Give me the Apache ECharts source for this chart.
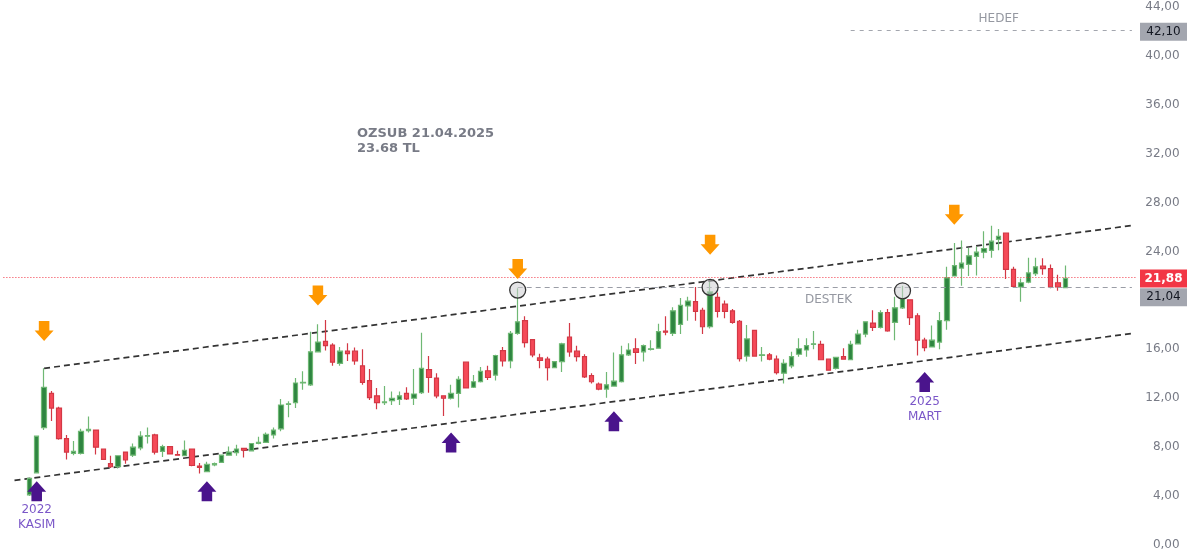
<!DOCTYPE html>
<html><head><meta charset="utf-8">
<script src="https://cdn.jsdelivr.net/npm/echarts@6/dist/echarts.min.js"></script>
<style>html,body{margin:0;padding:0;background:#fff}#c{width:1200px;height:551px}</style>
</head><body><div id="c"></div>
<script>
// ---- data (OZSUB) ----
const openP = [4.1,5.9,9.6,12.4,11.2,8.7,7.5,7.5,9.35,9.4,7.85,6.65,6.4,7.6,7.35,7.95,8.9,9.0,7.65,8.05,
  7.4,7.3,7.85,6.45,6.0,6.55,6.75,7.35,7.55,7.9,7.7,8.3,8.4,9.0,9.5,11.5,11.65,13.25,13.1,15.8,
  16.65,16.35,14.85,15.85,15.85,14.65,13.45,12.2,11.65,11.8,11.9,12.4,12.0,12.45,14.35,13.65,12.2,12.0,12.4,14.95,
  12.9,13.35,14.25,13.9,15.9,15.05,17.3,18.35,16.8,15.3,15.2,14.5,15.0,17.0,15.85,15.4,13.85,13.15,12.75,13.0,
  13.35,15.55,16.05,15.8,16.0,16.1,17.5,17.3,18.05,19.55,19.9,19.2,17.85,20.25,19.7,19.15,18.3,15.45,17.55,15.5,
  15.55,15.2,14.05,14.65,15.6,15.95,16.4,16.4,15.2,14.45,15.4,15.15,16.45,17.25,18.15,17.8,19.0,18.2,19.4,20.05,
  18.75,16.75,16.2,16.6,18.35,22.0,22.65,22.95,23.6,23.95,24.1,25.0,25.5,22.55,21.1,21.5,22.2,22.8,22.6,21.45,21.05];
const highP = [5.5,8.95,14.45,12.6,11.3,9.0,8.5,9.5,10.5,9.45,7.9,7.3,7.35,7.65,8.3,9.3,9.6,9.1,8.2,8.1,
  7.7,8.55,7.9,6.7,6.8,6.75,7.4,8.05,8.2,7.95,8.3,8.85,9.2,9.6,11.95,11.75,13.65,14.2,17.45,18.05,
  18.4,16.5,16.2,16.5,16.15,16.0,14.4,12.85,13.0,12.55,12.55,12.9,14.4,17.35,15.45,14.05,12.25,13.1,13.8,15.0,
  13.9,14.55,14.65,15.55,16.2,17.5,21.0,18.7,16.85,15.65,15.4,15.05,16.55,18.15,16.3,15.6,14.05,13.3,14.15,15.75,
  16.3,16.5,16.9,16.4,16.75,18.1,18.7,19.45,20.2,20.3,21.1,19.4,21.5,20.65,20.0,19.3,18.4,18.0,17.6,16.2,
  15.7,15.5,15.2,15.8,16.9,16.9,17.5,16.7,15.25,15.4,16.1,16.7,17.6,18.3,19.2,19.2,19.3,20.3,21.2,20.1,
  18.95,16.95,17.95,19.05,22.75,24.7,24.9,24.3,24.4,25.65,26.1,25.85,25.55,22.75,21.8,23.5,23.5,23.45,22.95,22.1,22.85];
const lowP = [4.0,5.85,9.4,10.15,8.6,7.0,7.35,7.4,9.2,7.4,6.95,6.3,6.25,6.65,7.2,7.75,8.3,7.4,7.2,7.45,
  7.3,7.25,6.45,5.85,5.95,6.45,6.7,7.3,7.3,7.15,7.65,8.25,8.35,8.7,9.3,10.45,11.2,12.7,13.0,15.75,
  15.9,14.65,14.65,15.05,14.75,13.1,11.85,11.1,11.45,11.45,11.45,11.85,11.45,12.35,12.45,12.0,10.55,11.9,11.25,12.8,
  12.85,13.3,13.5,13.45,14.6,14.45,17.2,16.15,15.35,14.45,13.45,14.45,14.15,15.4,15.0,13.65,13.2,12.65,12.05,12.95,
  13.3,15.45,14.8,15.0,15.9,16.05,17.15,17.1,17.25,18.35,18.35,17.25,17.7,18.6,18.55,18.1,15.0,15.0,15.4,15.0,
  15.1,13.95,13.2,14.45,15.4,15.4,16.0,15.1,14.3,14.35,15.15,15.1,16.4,17.0,17.5,17.7,17.45,16.75,19.3,18.0,
  15.5,15.85,16.15,16.0,17.6,21.95,21.2,22.0,22.05,23.45,23.5,24.1,21.75,21.05,19.9,21.4,22.0,22.1,21.0,20.8,21.0];
const closeP = [5.45,8.9,12.9,11.2,8.7,7.6,7.65,9.3,9.45,8.0,7.0,6.4,7.3,6.95,8.0,8.9,8.95,7.6,8.05,7.45,
  7.35,7.75,6.5,6.35,6.6,6.65,7.35,7.6,7.85,7.75,8.3,8.4,9.05,9.4,11.45,11.55,13.25,13.3,15.8,16.6,
  16.3,14.95,15.85,15.65,15.05,13.3,12.05,11.65,11.7,12.0,12.2,11.95,12.35,14.45,13.7,12.2,12.0,12.4,13.55,12.85,
  13.35,14.2,13.7,15.5,15.05,17.3,18.25,16.55,15.55,15.1,14.5,15.0,16.45,15.8,15.4,13.75,13.35,12.75,13.1,13.4,
  15.55,15.95,15.75,16.3,16.05,17.45,17.4,19.15,19.6,19.95,19.1,17.85,20.7,19.1,19.1,18.2,15.25,16.85,15.45,15.55,
  15.2,14.1,14.85,15.4,16.05,16.3,16.45,15.15,14.3,15.35,15.2,16.4,17.25,18.25,17.8,19.0,17.5,19.4,20.15,18.6,
  16.75,16.15,16.75,18.35,21.85,22.85,23.05,23.65,23.95,24.25,24.85,25.25,22.55,21.15,21.45,22.25,22.75,22.6,21.1,21.1,21.8];

const yTickLabels = ['0,00','4,00','8,00','12,00','16,00','','24,00','28,00','32,00','36,00','40,00','44,00'];
const priceTags = [ // value, text
  {v: 42.10, t: '42,10'}, {v: 21.88, t: '21,88'}, {v: 21.04, t: '21,04'}];
const upperTrend = [[5, 14.45], [152, 26.13]];   // [category index, price]
const lowerTrend = [[1, 5.28], [152, 17.30]];
const destek = 21.04, hedef = 42.10, lastLine = 21.88;

// ---- build ----
const LEAD = 3, TRAIL = 9;
const N = LEAD + openP.length + TRAIL;
const categories = Array.from({length: N}, (_, i) => 'W' + (i - LEAD + 1));
const candles = categories.map((_, i) => {
  const k = i - LEAD;
  return (k >= 0 && k < openP.length) ? [openP[k], closeP[k], lowP[k], highP[k]] : '-';
});

const FONT = 'DejaVu Sans';
const downArrow = 'path://M4,0 L14,0 L14,9 L18,9 L9,19 L0,9 L4,9 Z';
const upArrow = 'path://M9,0 L18,10 L14,10 L14,19 L4,19 L4,10 L0,10 Z';
const ORANGE = '#ff9800', PURPLE = '#4a148c';

function arrow(cat, val, up) {
  return {coord: [cat, val], symbol: up ? upArrow : downArrow, symbolSize: [19, 20],
    itemStyle: {color: up ? PURPLE : ORANGE}, label: {show: false}};
}
function ring(cat, val) {
  return {coord: [cat, val], symbol: 'circle', symbolSize: 16,
    itemStyle: {color: 'rgba(205,205,210,0.55)', borderColor: '#333', borderWidth: 1.3}, label: {show: false}};
}
function txt(cat, val, text, color) {
  return {coord: [cat, val], symbol: 'rect', symbolSize: [1, 1], itemStyle: {color: 'rgba(0,0,0,0)'},
    label: {show: true, position: 'inside', formatter: text, color: color, fontFamily: FONT, fontSize: 12, lineHeight: 15, align: 'center'}};
}

const chart = echarts.init(document.getElementById('c'), null, {renderer: 'canvas'});
const GL = 3.4, BW = 7.4;
const gridRight = 1200 - (GL + N * BW);

chart.setOption({
  animation: false,
  backgroundColor: '#ffffff',
  grid: {left: GL, right: gridRight, top: 7, bottom: 6, containLabel: false},
  xAxis: {type: 'category', data: categories, show: false, boundaryGap: true},
  yAxis: {type: 'value', position: 'right', min: 0, max: 44, interval: 4, scale: false,
    axisLine: {show: false}, axisTick: {show: false}, splitLine: {show: false},
    axisLabel: {align: 'right', margin: 44, color: '#787b86', fontFamily: FONT, fontSize: 12,
      formatter: (v) => yTickLabels[Math.round(v / 4)]}},
  series: [
    {type: 'line', data: upperTrend, symbol: 'none', silent: true, z: 1,
      lineStyle: {color: '#333', width: 1.7, type: [6, 4]}},
    {type: 'line', data: lowerTrend, symbol: 'none', silent: true, z: 1,
      lineStyle: {color: '#333', width: 1.7, type: [6, 4]}},
    {type: 'candlestick', data: candles, barWidth: 5, z: 3,
      itemStyle: {color: '#2e8540', color0: '#f54a58', borderColor: '#6fb874', borderColor0: '#d33845', borderWidth: 1.2},
      markLine: {silent: true, symbol: ['none', 'none'], label: {show: false},
        data: [
          [{coord: [LEAD + 66, destek], lineStyle: {color: '#9a9da6', width: 1, type: [5, 4]}}, {coord: [N - 1, destek]}],
          [{coord: [114, hedef], lineStyle: {color: '#a3a6ae', width: 1, type: [4, 5]}}, {coord: [N - 1, hedef]}],
          {yAxis: lastLine, lineStyle: {color: '#f23645', width: 1, type: [1, 2]}}
        ]},
      markPoint: {silent: true, label: {show: false},
        data: [
          arrow(5, 17.5, false), arrow(42, 20.4, false), arrow(69, 22.58, false), arrow(95, 24.55, false), arrow(128, 27.0, false),
          arrow(4, 4.4, true), arrow(27, 4.4, true), arrow(60, 8.38, true), arrow(82, 10.12, true), arrow(124, 13.33, true),
          ring(69, 20.85), ring(95, 21.07), ring(121, 20.79),
          txt(4, 2.25, '2022\nKASIM', '#7b57c8'), txt(124, 11.08, '2025\nMART', '#7b57c8'),
          txt(111, 20.03, 'DESTEK', '#9598a1'), txt(134, 43.0, 'HEDEF', '#9598a1')
        ]}
    }
  ]
});

// price tags in the axis strip
const tagStyle = {
  '42,10': {bg: '#a3a6af', fg: '#131722', bold: false, dy: 1.5},
  '21,88': {bg: '#f23645', fg: '#ffffff', bold: true, dy: 1},
  '21,04': {bg: '#a3a6af', fg: '#131722', bold: false, dy: 9.5}
};
const graphics = [];
priceTags.forEach(p => {
  const s = tagStyle[p.t];
  const yc = chart.convertToPixel({yAxisIndex: 0}, p.v) + s.dy;
  graphics.push({type: 'rect', shape: {x: 1140, y: yc - 9, width: 47, height: 18}, style: {fill: s.bg}, z: 10});
  graphics.push({type: 'text', x: 1163.5, y: yc, z: 11,
    style: {text: p.t, fill: s.fg, font: (s.bold ? 'bold ' : '') + '12px ' + FONT, align: 'center', verticalAlign: 'middle'}});
});
graphics.push({type: 'text', x: 357, y: 126, z: 11,
  style: {text: 'OZSUB 21.04.2025\n23.68 TL', fill: '#787b86', font: 'bold 13px ' + FONT, lineHeight: 15, verticalAlign: 'top'}});
chart.setOption({graphic: graphics});
</script>
</body></html>
